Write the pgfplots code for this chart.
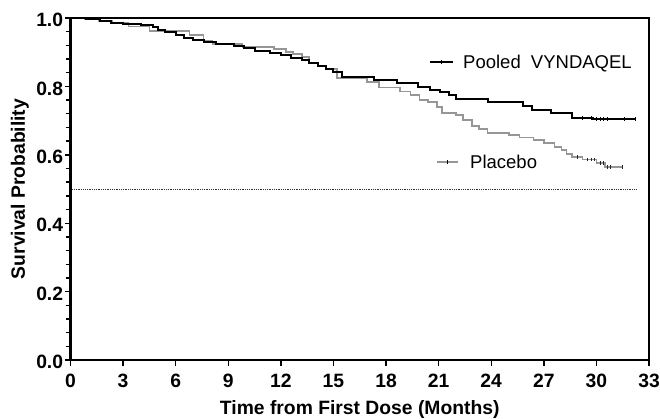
\documentclass[border=0pt]{standalone}
\usepackage{pgfplots}
\pgfplotsset{compat=1.18}
\usepackage{fontspec}
\setmainfont{Liberation Sans}
\usetikzlibrary{calc}

\definecolor{placebogray}{RGB}{150,150,150}

\begin{document}
\begin{tikzpicture}
\begin{axis}[name=ax,
  scale only axis, width=578.5pt, height=342pt,
  xmin=0, xmax=33, ymin=0, ymax=1,
  xtick={0,3,6,9,12,15,18,21,24,27,30,33},
  xticklabels={0,3,6,9,12,15,18,21,24,27,30,33},
  ytick={0,0.2,0.4,0.6,0.8,1.0},
  yticklabels={0.0,0.2,0.4,0.6,0.8,1.0},
  minor y tick num=4,
  tick pos=left, tick align=outside,
  major tick length=5.5pt, minor tick length=4pt,
  tick style={black, line width=1.4pt},
  axis line style={line width=1.6pt},
  /pgf/number format/assume math mode=true,
  tick label style={font=\fontsize{19.3}{23}\selectfont\bfseries, inner sep=0pt},
  xticklabel style={anchor=base, yshift=-21.5pt},
  yticklabel style={anchor=east, xshift=-1.7pt, yshift=-2pt},
  label style={font=\fontsize{19.3}{23}\selectfont\bfseries},
  xlabel={Time from First Dose (Months)},
  ylabel={Survival Probability},
  xlabel style={at={($(rel axis cs:0.5,0)+(0,-54pt)$)}, anchor=base, inner sep=0pt},
  ylabel style={at={($(rel axis cs:0,0.5)+(-45.5pt,0)$)}, anchor=base, inner sep=0pt},
  clip=false,
]
% reference line at 0.5
\addplot[black!80, line width=0.6pt, dash pattern=on 0.7pt off 1.1pt] coordinates {(0,0.5) (32.3,0.5)};

% Placebo
\addplot[placebogray, line width=1.5pt, const plot mark left] coordinates {
(0,1.0) (0.8,0.997) (1.6,0.991) (2.4,0.985) (3.3,0.975) (4.5,0.962)
(6.8,0.950) (7.6,0.933) (8.1,0.924) (9.8,0.915) (11.6,0.909) (12.3,0.901)
(12.7,0.895) (13.2,0.886) (13.6,0.868) (14.1,0.860) (14.6,0.851) (15.2,0.825)
(16.9,0.813) (17.6,0.797) (18.8,0.785) (19.4,0.775) (19.9,0.760) (20.4,0.754)
(20.9,0.740) (21.2,0.722) (22.0,0.716) (22.4,0.702) (22.9,0.684) (23.3,0.675)
(23.8,0.664) (25.0,0.658) (25.6,0.650) (26.4,0.643) (27.0,0.634) (27.6,0.623)
(28.0,0.614) (28.3,0.603) (28.6,0.594) (29.2,0.586) (30.0,0.576) (30.5,0.564)
(31.5,0.564)
};

% Pooled VYNDAQEL
\addplot[black, line width=2pt, const plot mark left] coordinates {
(0,1.0) (0.9,0.997) (1.7,0.991) (2.3,0.985) (3.0,0.982) (4.0,0.979)
(4.7,0.974) (5.0,0.965) (5.4,0.959) (6.0,0.950) (6.5,0.942) (7.0,0.936)
(7.6,0.930) (8.3,0.924) (9.3,0.918) (9.9,0.912) (10.5,0.904) (11.4,0.898)
(12.0,0.892) (12.6,0.883) (13.2,0.877) (13.6,0.868) (14.1,0.860) (14.6,0.851)
(15.0,0.842) (15.5,0.827) (17.3,0.819) (18.6,0.810) (19.8,0.798) (20.5,0.790)
(21.1,0.784) (21.6,0.775) (22.0,0.763) (23.8,0.754) (25.8,0.742) (26.3,0.731)
(27.4,0.722) (28.6,0.708) (29.8,0.705) (32.2,0.705)
};

% censoring marks
\addplot[only marks, mark=|, mark size=1.8pt, black!85, mark options={line width=0.8pt}] coordinates {
(28.9,0.594) (29.5,0.586) (29.7,0.586) (29.9,0.586) (30.2,0.576) (30.4,0.576)
(30.6,0.564) (30.8,0.564) (31.5,0.564)
};
\addplot[only marks, mark=|, mark size=1.8pt, black, mark options={line width=0.8pt}] coordinates {
(29.2,0.708) (29.7,0.708) (30.0,0.705) (30.2,0.705) (30.4,0.705) (30.6,0.705)
(31.6,0.705) (32.2,0.705)
};

% labels beside the curves
\addplot[black, line width=2pt, mark=|, mark size=2pt, mark indices={2}, mark options={line width=0.9pt}, forget plot] coordinates {(20.5,0.871) (21.15,0.871) (21.8,0.871)};
\addplot[placebogray, line width=1.5pt, mark=|, mark size=1.8pt, mark indices={2}, forget plot, mark options={black, line width=0.8pt}] coordinates {(20.9,0.579) (21.5,0.579) (22.1,0.579)};
\node[anchor=base west, inner sep=0pt, font=\fontsize{18.5}{22}\selectfont] at (axis cs:22.39,0.853) {Pooled\hspace{0.55em}VYNDAQEL};
\node[anchor=base west, inner sep=0pt, font=\fontsize{18.5}{22}\selectfont] at (axis cs:22.79,0.561) {Placebo};

% heavier left and bottom axis lines
\draw[line width=2.4pt] (rel axis cs:0,1) -- (rel axis cs:0,0) -- (rel axis cs:1,0);
\end{axis}
\pgfresetboundingbox
\path[use as bounding box] ([xshift=-70.5pt,yshift=-58pt]ax.south west) rectangle ([xshift=11pt,yshift=18pt]ax.north east);
\end{tikzpicture}
\end{document}
